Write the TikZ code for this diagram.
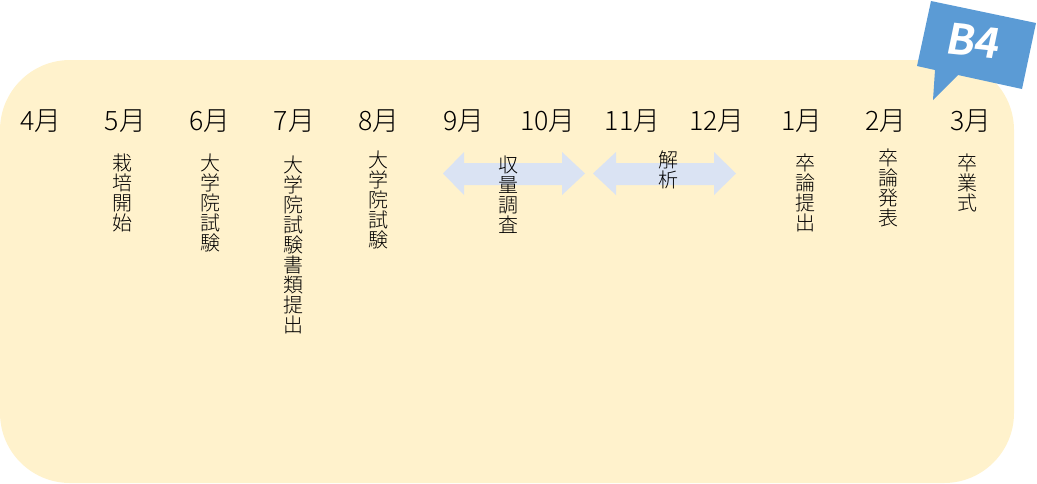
\documentclass[tikz,border=0pt]{standalone}
\usepackage{fontspec}
\IfFontExistsTF{Noto Sans CJK JP Light}
  {\setmainfont{Noto Sans CJK JP Light}[BoldFont={Noto Sans CJK JP Bold}]}
  {\setmainfont{Noto Sans CJK JP}}
\definecolor{panelyellow}{HTML}{FFF2CC}
\definecolor{arrowblue}{HTML}{DAE3F3}
\definecolor{badgeblue}{HTML}{5B9BD5}
\begin{document}
\begin{tikzpicture}[x=0.025cm,y=-0.025cm,
    month/.style={anchor=base,inner sep=0pt,font=\fontsize{19}{19}\selectfont},
    event/.style={anchor=north,inner sep=0pt,align=center,font=\fontsize{14.2}{14.2}\selectfont},
    twoway/.style={fill=arrowblue},
    badge/.style={fill=badgeblue}]
  \useasboundingbox (0,0) rectangle (1037,483);
  \fill[panelyellow,rounded corners=49.8pt] (0,60) rectangle (1014,483);
  \fill[badge] (931,1) -- (1036,23) -- (1022,89) -- (958,75) -- (933,100)
    -- (935,70) -- (917,66) -- cycle;
  \node[text=white,font=\fontsize{30}{30}\selectfont\bfseries,rotate=-6,xslant=0.1,inner sep=0pt]
    (b4) at (974,41) {B4};
  \draw
    (41,130) node[month] (m4){4月}
    (125.5,130) node[month] (m5){5月}
    (210,130) node[month] (m6){6月}
    (294.5,130) node[month] (m7){7月}
    (379,130) node[month] (m8){8月}
    (463.5,130) node[month] (m9){9月}
    (548,130) node[month] (m10){10月}
    (632.5,130) node[month] (m11){11月}
    (717,130) node[month] (m12){12月}
    (801.5,130) node[month] (m1){1月}
    (886,130) node[month] (m2){2月}
    (970.5,130) node[month] (m3){3月};
  \begin{scope}[twoway]
    \fill (443,173.5) -- (464,152) -- (464,163) -- (562,163) -- (562,152) -- (585,173.5)
      -- (562,195) -- (562,185) -- (464,185) -- (464,195) -- cycle;
    \fill (593,173.5) -- (616,152) -- (616,163) -- (714,163) -- (714,152) -- (736,173.5)
      -- (714,195) -- (714,185) -- (616,185) -- (616,195) -- cycle;
  \end{scope}
  \draw
    (122.5,154) node[event] (e5){栽\\培\\開\\始}
    (210.5,154) node[event] (e6){大\\学\\院\\試\\験}
    (293.5,156) node[event] (e7){大\\学\\院\\試\\験\\書\\類\\提\\出}
    (378,151) node[event] (e8){大\\学\\院\\試\\験}
    (508.5,156) node[event] (harvest){収\\量\\調\\査}
    (668.5,151) node[event] (analysis){解\\析}
    (805,154) node[event] (e1){卒\\論\\提\\出}
    (888.5,149) node[event] (e2){卒\\論\\発\\表}
    (967,154) node[event] (e3){卒\\業\\式};
\end{tikzpicture}
\end{document}
